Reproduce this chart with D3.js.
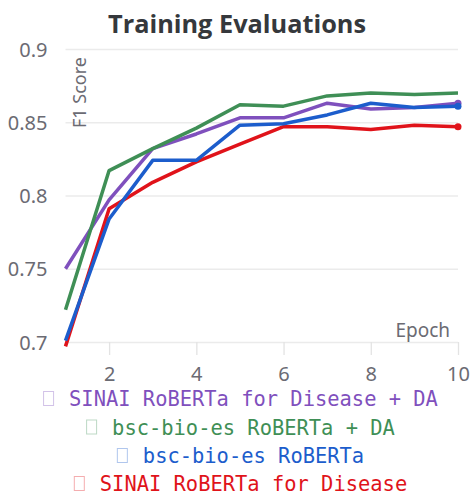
<!DOCTYPE html>
<html>
<head>
<meta charset="utf-8">
<script src="https://cdn.jsdelivr.net/npm/d3@7"></script>
<style>
  body { margin: 0; background: #fff; }
  svg { display: block; }
</style>
</head>
<body>
<svg id="chart" width="470" height="495"></svg>
<script>
// Data
const epochs = [1, 2, 3, 4, 5, 6, 7, 8, 9, 10];
const seriesNames = [
  'SINAI RoBERTa for Disease + DA',
  'bsc-bio-es RoBERTa + DA',
  'bsc-bio-es RoBERTa',
  'SINAI RoBERTa for Disease'
];
const sinaiDA   = [0.750, 0.797, 0.832, 0.842, 0.853, 0.853, 0.863, 0.859, 0.860, 0.863];
const bscDA     = [0.722, 0.817, 0.832, 0.846, 0.862, 0.861, 0.868, 0.870, 0.869, 0.870];
const bsc       = [0.701, 0.784, 0.824, 0.824, 0.848, 0.849, 0.855, 0.863, 0.860, 0.861];
const sinai     = [0.697, 0.791, 0.809, 0.823, 0.835, 0.847, 0.847, 0.845, 0.848, 0.847];
const colors = ['#7f50bd', '#3f8f56', '#1c5dcc', '#e0131a'];
const yTicks = [0.7, 0.75, 0.8, 0.85, 0.9];
const xTicks = [2, 4, 6, 8, 10];

const values = [sinaiDA, bscDA, bsc, sinai];
const series = seriesNames.map((name, i) => ({
  name, color: colors[i],
  points: epochs.map((e, j) => ({ x: e, y: values[i][j] }))
}));

const svg = d3.select('#chart');
const sansFont = "'Noto Sans', 'Open Sans', sans-serif";
const axisGrey = '#6b6b73';

const x = d3.scaleLinear().domain([1, 10]).range([65.5, 458]);
const y = d3.scaleLinear().domain([0.7, 0.9]).range([342, 49]);

// Title (fit to the width seen in the reference)
const title = svg.append('text')
  .attr('x', 237).attr('y', 33)
  .attr('text-anchor', 'middle')
  .style('font-family', "'Open Sans', Lato, sans-serif")
  .style('font-weight', 'bold')
  .style('font-size', '24px')
  .style('fill', '#35383c')
  .text('Training Evaluations');
const tw0 = title.node().getComputedTextLength();
title.style('font-size', (24 * 258 / tw0).toFixed(2) + 'px');

// Horizontal grid + y labels
const yAxis = d3.axisLeft(y).tickValues(yTicks)
  .tickSize(-(x.range()[1] - x.range()[0]))
  .tickPadding(18)
  .tickFormat(d => d3.format('')(d));
const gy = svg.append('g')
  .attr('transform', `translate(${x.range()[0]},0)`)
  .call(yAxis);
gy.select('.domain').remove();
gy.selectAll('line').attr('stroke', '#ebebeb').attr('stroke-width', 1.3);
gy.selectAll('text')
  .style('font-family', sansFont).style('font-size', '20px')
  .style('fill', axisGrey).attr('dy', '0.36em');

// x ticks + labels
const xAxis = d3.axisBottom(x).tickValues(xTicks).tickSize(13).tickPadding(12);
const gx = svg.append('g')
  .attr('transform', `translate(0,${y(0.7)})`)
  .call(xAxis);
gx.select('.domain').remove();
gx.selectAll('line').attr('stroke', '#e3e3e3').attr('stroke-width', 1.3);
gx.selectAll('text')
  .style('font-family', sansFont).style('font-size', '20px')
  .style('fill', axisGrey);

// Axis titles
svg.append('text')
  .attr('transform', 'translate(86,57) rotate(-90)')
  .attr('text-anchor', 'end')
  .style('font-family', sansFont).style('font-size', '18px')
  .style('fill', axisGrey)
  .text('F1 Score');

svg.append('text')
  .attr('x', 450).attr('y', 337)
  .attr('text-anchor', 'end')
  .style('font-family', sansFont).style('font-size', '19px')
  .style('fill', axisGrey)
  .text('Epoch');

// Lines
const line = d3.line().x(d => x(d.x)).y(d => y(d.y));
const drawOrder = [0, 1, 3, 2];
const lg = svg.append('g');
drawOrder.forEach(i => {
  const s = series[i];
  lg.append('path')
    .datum(s.points)
    .attr('d', line)
    .attr('fill', 'none')
    .attr('stroke', s.color)
    .attr('stroke-width', 3.5)
    .attr('stroke-linejoin', 'round');
  if (i !== 1) {
    const last = s.points[s.points.length - 1];
    lg.append('circle')
      .attr('cx', x(last.x)).attr('cy', y(last.y))
      .attr('r', 3.5).attr('fill', s.color);
  }
});

// Legend
const legendY = [406, 434.5, 463, 491];
const legendCenter = 240.5;
const monoFont = "'DejaVu Sans Mono', 'Liberation Mono', monospace";
// size the mono font so the longest entry matches the reference width
const probe = svg.append('text').style('font-family', monoFont)
  .style('font-size', '20px').text(seriesNames[0]);
const legendSize = 20 * 369 / probe.node().getComputedTextLength();
probe.remove();

series.forEach((s, i) => {
  const g = svg.append('g');
  const t = g.append('text')
    .attr('y', legendY[i])
    .style('font-family', monoFont)
    .style('font-size', legendSize.toFixed(2) + 'px')
    .style('fill', s.color)
    .text(s.name);
  const tw = t.node().getComputedTextLength();
  const total = 11 + 15 + tw;
  const start = legendCenter - total / 2;
  t.attr('x', start + 26);
  g.append('rect')
    .attr('x', start + 0.5).attr('y', legendY[i] - 14.5)
    .attr('width', 10).attr('height', 14)
    .attr('fill', 'none')
    .attr('stroke', s.color)
    .attr('stroke-opacity', 0.35)
    .attr('stroke-width', 1);
});
</script>
</body>
</html>
